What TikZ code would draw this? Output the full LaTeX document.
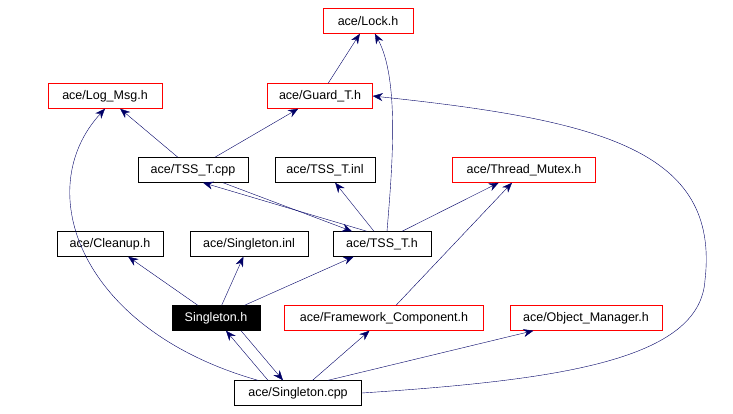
\documentclass[tikz,border=0pt]{standalone}
\usepackage{fontspec}
\setmainfont{Liberation Sans}
\usetikzlibrary{arrows.meta,positioning}
\begin{document}
\begin{tikzpicture}
[x=1pt,y=-1pt,
every node/.style={shape=rectangle,draw=black,font=\fontsize{12.5}{14}\selectfont,inner sep=0pt,minimum height=25pt},
redbox/.style={draw=red},
selbox/.style={fill=black,text=white},
myedge/.style={-{Stealth[length=10pt,width=8pt]},draw=blue!40!black,thin}]
\useasboundingbox (0,0) rectangle (733,413);
%% nodes
\node (lock) [redbox,minimum width=90pt] at (368,21) {ace/Lock.h};
\node (logmsg) [redbox,minimum width=114pt] at (105,96) {ace/Log\_Msg.h};
\node (guard) [redbox,minimum width=105pt] at (320,96) {ace/Guard\_T.h};
\node (tsscpp) [minimum width=110pt] at (193,170) {ace/TSS\_T.cpp};
\node (tssinl) [minimum width=100pt] at (325,170) {ace/TSS\_T.inl};
\node (mutex) [redbox,minimum width=143pt] at (524,170) {ace/Thread\_Mutex.h};
\node (cleanup) [minimum width=106pt] at (110,244) {ace/Cleanup.h};
\node (sinl) [minimum width=118pt] at (249,244) {ace/Singleton.inl};
\node (tssh) [minimum width=98pt] at (382,244) {ace/TSS\_T.h};
\node (sh) [selbox,minimum width=88pt] at (216,318) {Singleton.h};
\node (fw) [redbox,minimum width=199pt] at (384,318) {ace/Framework\_Component.h};
\node (om) [redbox,minimum width=152pt] at (586,318) {ace/Object\_Manager.h};
\node (scpp) [minimum width=127pt] at (298,393) {ace/Singleton.cpp};
%% edges
\draw[myedge] (guard) -- (lock);
\draw[myedge] ([xshift=5pt]tssh.north) .. controls (392,170) and (400,80) .. (lock);
\draw[myedge] (tsscpp) -- (logmsg);
\draw[myedge] (tsscpp) -- (guard);
\draw[myedge] ([xshift=-15pt]tssh.north) -- ([xshift=10pt]tsscpp.south);
\draw[myedge] ([xshift=30pt]tsscpp.south) -- ([xshift=-30pt]tssh.north);
\draw[myedge] ([xshift=-8pt]tssh.north) -- (tssinl);
\draw[myedge] ([xshift=20pt]tssh.north) -- (mutex);
\draw[myedge] (sh) -- (cleanup);
\draw[myedge] (sh) -- (sinl);
\draw[myedge] (sh) -- (tssh);
\draw[myedge] (fw) -- (mutex);
\draw[myedge] ([xshift=-30pt]scpp.north) -- ([xshift=10pt]sh.south);
\draw[myedge] ([xshift=25pt]sh.south) -- ([xshift=-15pt]scpp.north);
\draw[myedge] ([xshift=-40pt]scpp.north) .. controls (80,330) and (30,190) .. (logmsg.south);
\draw[myedge] (scpp.east) .. controls (560,380) and (700,360) .. (705,280)
  .. controls (720,150) and (600,120) .. (guard.east);
\draw[myedge] (scpp) -- (fw);
\draw[myedge] ([xshift=30pt]scpp.north) -- (om);
\end{tikzpicture}
\end{document}
